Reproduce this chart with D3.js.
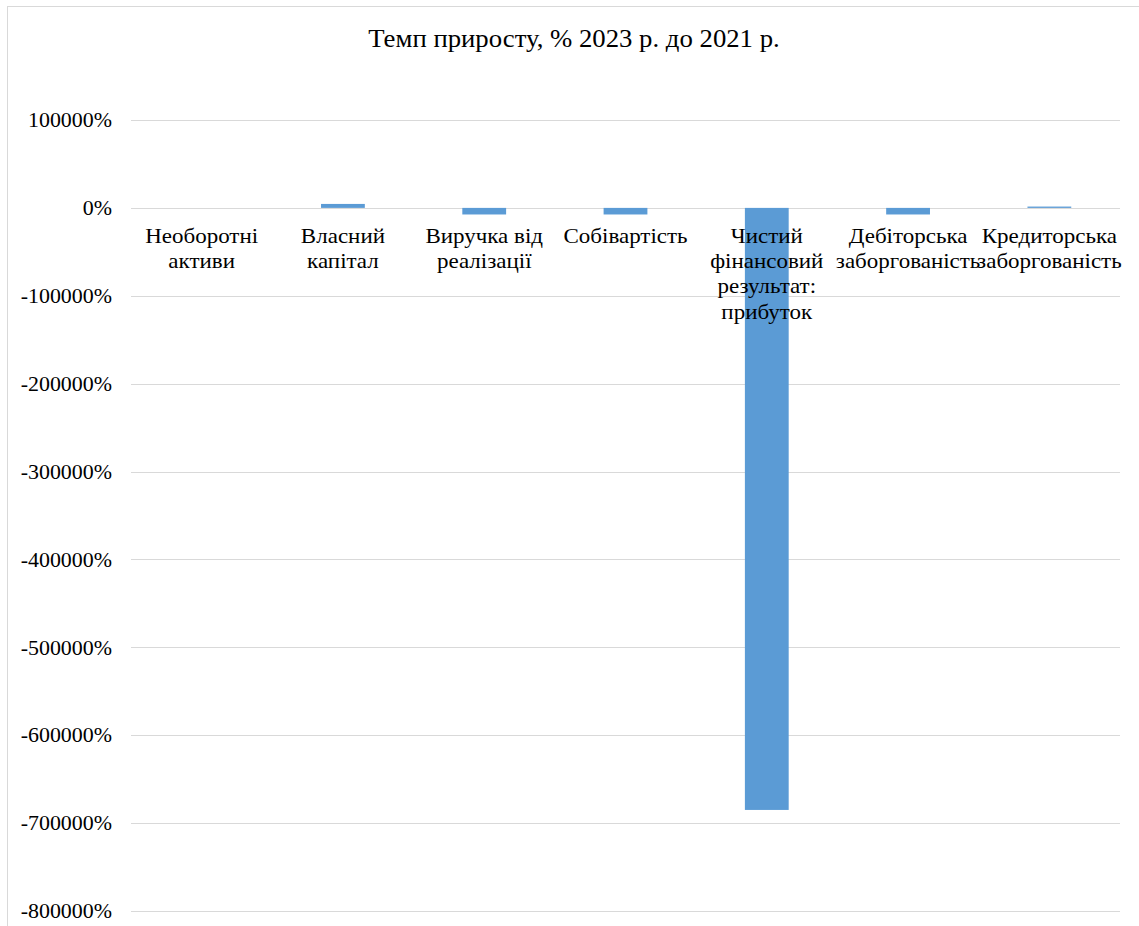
<!DOCTYPE html>
<html>
<head>
<meta charset="utf-8">
<script src="https://cdn.jsdelivr.net/npm/d3@7/dist/d3.min.js"></script>
<style>
  html, body { margin: 0; padding: 0; background: #fff; }
  svg { display: block; }
</style>
</head>
<body>
<svg id="chart" width="1139" height="926"></svg>
<script>
const title = "Темп приросту, % 2023 р. до 2021 р.";
const categories = [
  "Необоротні активи",
  "Власний капітал",
  "Виручка від реалізації",
  "Собівартість",
  "Чистий фінансовий результат: прибуток",
  "Дебіторська заборгованість",
  "Кредиторська заборгованість"
];
const categoryLines = [
  ["Необоротні", "активи"],
  ["Власний", "капітал"],
  ["Виручка від", "реалізації"],
  ["Собівартість"],
  ["Чистий", "фінансовий", "результат:", "прибуток"],
  ["Дебіторська", "заборгованість"],
  ["Кредиторська", "заборгованість"]
];
const values = [0, 4500, -7500, -7500, -685000, -7500, 1500];
const yTicks = [100000, 0, -100000, -200000, -300000, -400000, -500000, -600000, -700000, -800000];

const FONT = "'Liberation Serif', Tinos, 'Times New Roman', 'DejaVu Serif', serif";
const STRETCH = "scale(1.07,1)";

const svg = d3.select("#chart");
const W = 1139, H = 926;
const plot = { left: 131, right: 1120, top: 120, bottom: 911 };

// outer frame
svg.append("rect")
  .attr("x", 7.5).attr("y", 6.5)
  .attr("width", W + 10).attr("height", H + 10)
  .attr("fill", "none").attr("stroke", "#d9d9d9").attr("stroke-width", 1);

const x = d3.scaleBand().domain(categories).range([plot.left, plot.right]).paddingInner(0.69).paddingOuter(0.345);
const y = d3.scaleLinear().domain([-800000, 100000]).range([plot.bottom, plot.top]);

// gridlines
svg.append("g").selectAll("line").data(yTicks).join("line")
  .attr("x1", plot.left).attr("x2", plot.right)
  .attr("y1", d => Math.round(y(d)) + 0.5).attr("y2", d => Math.round(y(d)) + 0.5)
  .attr("stroke", "#d9d9d9").attr("stroke-width", 1);

// y axis labels
const yAxis = d3.axisLeft(y).tickValues(yTicks).tickSize(0).tickPadding(0)
  .tickFormat(d => d + "%");
const gy = svg.append("g").attr("transform", `translate(112,0)`).call(yAxis)
  .attr("font-family", FONT).attr("font-size", 20.5);
gy.select(".domain").remove();
gy.selectAll("text").attr("fill", "#000").attr("x", 0).attr("dy", "0.33em").attr("transform", STRETCH);

// bars
svg.append("g").selectAll("rect").data(values).join("rect")
  .attr("x", (d, i) => x(categories[i]))
  .attr("width", x.bandwidth())
  .attr("y", d => Math.min(y(d), y(0)))
  .attr("height", d => Math.abs(y(d) - y(0)))
  .attr("fill", "#5B9BD5");

// category labels (drawn over bars)
const xAxis = d3.axisBottom(x).tickSize(0).tickFormat("");
const gx = svg.append("g").attr("transform", `translate(0,${y(0)})`).call(xAxis)
  .attr("font-family", FONT).attr("font-size", 21.5);
gx.select(".domain").remove();
gx.selectAll(".tick").each(function(d, i) {
  const t = d3.select(this).append("text")
    .attr("text-anchor", "middle")
    .attr("fill", "#000")
    .attr("transform", STRETCH);
  categoryLines[i].forEach((line, k) => {
    t.append("tspan").attr("x", 0).attr("y", 35 + k * 25.3).text(line);
  });
});

// title
svg.append("text")
  .attr("transform", `translate(574,47) ${STRETCH}`)
  .attr("text-anchor", "middle")
  .attr("font-family", FONT)
  .attr("font-size", 25)
  .attr("fill", "#000")
  .text(title);
</script>
</body>
</html>
